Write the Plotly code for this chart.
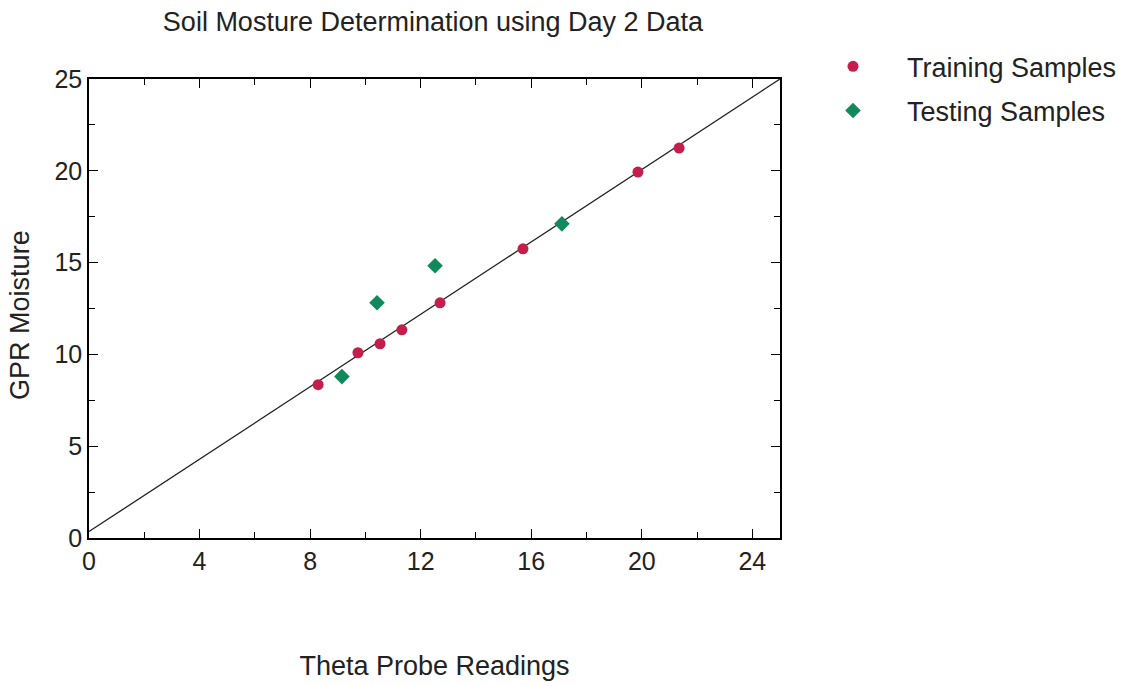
import plotly.graph_objects as go

# Data
train_x = [8.29, 9.73, 10.53, 11.32, 12.70, 15.70, 19.86, 21.35]
train_y = [8.35, 10.09, 10.58, 11.34, 12.81, 15.75, 19.93, 21.24]
test_x = [9.15, 10.42, 12.52, 17.11]
test_y = [8.79, 12.81, 14.83, 17.11]
line_x = [0, 25]
line_y = [0.35, 25]

x_ticks = [0, 4, 8, 12, 16, 20, 24]
y_ticks = [0, 5, 10, 15, 20, 25]

FONT = "Liberation Sans, Arial, Helvetica, sans-serif"
RED = "#c41e4a"
GREEN = "#108a5c"
TXT = "#222222"

fig = go.Figure()
fig.add_trace(go.Scatter(x=line_x, y=line_y, mode="lines",
                         line=dict(color="#222222", width=1.3),
                         showlegend=False, hoverinfo="skip"))
fig.add_trace(go.Scatter(x=train_x, y=train_y, mode="markers", name="Training Samples",
                         legendgroup="a",
                         marker=dict(symbol="circle", size=11, color=RED)))
fig.add_trace(go.Scatter(x=test_x, y=test_y, mode="markers", name="Testing Samples",
                         legendgroup="b",
                         marker=dict(symbol="diamond", size=12, color=GREEN)))

axis_common = dict(showline=True, linecolor="black", linewidth=1.6, mirror="allticks",
                   ticks="inside", ticklen=9, tickwidth=1.2, tickcolor="black",
                   showgrid=False, zeroline=False, automargin=False,
                   tickfont=dict(family=FONT, size=25, color=TXT))

fig.update_xaxes(range=[0, 25], tickvals=x_ticks,
                 minor=dict(ticks="inside", dtick=2, tick0=0, ticklen=6, tickcolor="black", tickwidth=1.2),
                 title=dict(text="Theta Probe Readings", font=dict(family=FONT, size=27, color=TXT),
                            standoff=82),
                 **axis_common)
fig.update_yaxes(range=[0, 25], tickvals=y_ticks,
                 minor=dict(ticks="inside", dtick=2.5, tick0=0, ticklen=6, tickcolor="black", tickwidth=1.2),
                 **axis_common)

fig.add_annotation(text="GPR Moisture", textangle=-90, showarrow=False,
                   xref="paper", yref="paper", x=-0.0999, y=0.486,
                   xanchor="center", yanchor="middle",
                   font=dict(family=FONT, size=27, color=TXT))

fig.update_layout(
    width=1126, height=686,
    margin=dict(l=89, r=346, t=79, b=147.5, autoexpand=False),
    plot_bgcolor="white", paper_bgcolor="white",
    title=dict(text="Soil Mosture Determination using Day 2 Data",
               font=dict(family=FONT, size=27, color=TXT),
               x=433 / 1126, xanchor="center", y=1 - 22 / 686, yanchor="middle"),
    legend=dict(x=1.0275, y=1.08, xanchor="left", yanchor="top",
                font=dict(family=FONT, size=27, color=TXT),
                itemwidth=98, tracegroupgap=6, bgcolor="rgba(0,0,0,0)"),
)

fig.write_html("out.html")
